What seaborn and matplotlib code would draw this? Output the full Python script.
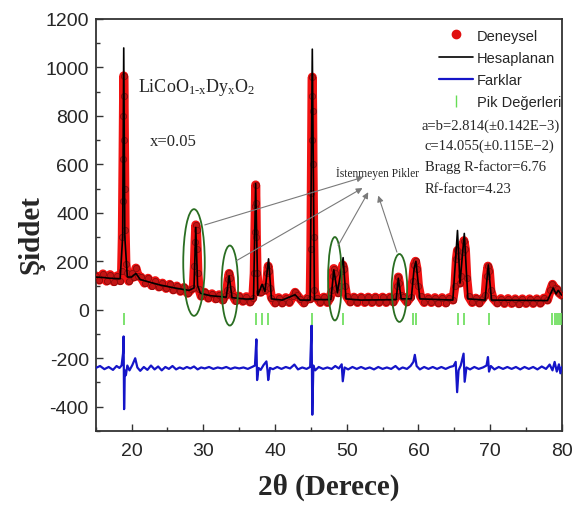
"""
Rietveld refinement plot for LiCoO(1-x)Dy(x)O2, x=0.05.
"""

import matplotlib
matplotlib.use('Agg')
import matplotlib.pyplot as plt
import seaborn as sns
import pandas as pd
from matplotlib.lines import Line2D
from matplotlib.patches import Ellipse

obs_x = [15.0, 15.5, 16.0, 16.5, 17.0, 17.5, 18.0, 18.4, 18.6, 18.7, 18.75, 18.8, 18.85, 18.9,
         18.95, 19.0, 19.05, 19.1, 19.2, 19.35, 19.6, 20.0, 20.3, 20.6, 20.9, 21.3, 21.8, 22.3,
         22.8, 23.3, 23.8, 24.3, 24.8, 25.3, 25.8, 26.3, 26.8, 27.3, 27.8, 28.3, 28.6, 28.75,
         28.85, 28.95, 29.05, 29.15, 29.25, 29.4, 29.7, 30.2, 30.7, 31.2, 31.7, 32.2, 32.7, 33.1,
         33.3, 33.45, 33.6, 33.75, 33.9, 34.1, 34.5, 35.0, 35.5, 36.0, 36.5, 36.9, 37.1, 37.2,
         37.25, 37.3, 37.35, 37.4, 37.5, 37.7, 38.0, 38.3, 38.55, 38.8, 38.95, 39.05, 39.15, 39.3,
         39.5, 40.0, 40.5, 41.0, 41.5, 42.0, 42.5, 42.8, 43.1, 43.5, 44.0, 44.5, 44.9, 45.0,
         45.05, 45.1, 45.15, 45.2, 45.25, 45.3, 45.4, 45.5, 45.8, 46.3, 46.8, 47.3, 47.7, 47.95,
         48.1, 48.2, 48.35, 48.5, 48.8, 49.1, 49.3, 49.45, 49.6, 49.75, 50.0, 50.5, 51.0, 51.5,
         52.0, 52.5, 53.0, 53.5, 54.0, 54.5, 55.0, 55.5, 56.0, 56.5, 56.9, 57.05, 57.2, 57.35,
         57.55, 57.9, 58.4, 58.9, 59.2, 59.4, 59.6, 59.8, 60.0, 60.3, 60.8, 61.3, 61.8, 62.3,
         62.8, 63.3, 63.8, 64.3, 64.8, 65.1, 65.3, 65.45, 65.6, 65.8, 65.95, 66.15, 66.35, 66.55,
         66.75, 67.0, 67.5, 68.0, 68.5, 69.0, 69.3, 69.5, 69.7, 69.9, 70.1, 70.4, 71.0, 71.5,
         72.0, 72.5, 73.0, 73.5, 74.0, 74.5, 75.0, 75.5, 76.0, 76.5, 77.0, 77.5, 78.0, 78.4,
         78.7, 79.0, 79.3, 79.6, 80.0]
obs_y = [140, 122, 148, 118, 145, 116, 140, 120, 160, 300, 450, 620, 800, 965,
         880, 700, 500, 330, 190, 150, 118, 150, 135, 172, 140, 135, 110, 130,
         100, 120, 94, 110, 88, 105, 82, 98, 76, 92, 68, 84, 90, 180,
         280, 350, 330, 250, 150, 85, 56, 72, 48, 66, 45, 62, 40, 60,
         80, 125, 150, 130, 85, 58, 38, 56, 35, 54, 32, 50, 150, 320,
         430, 515, 440, 300, 150, 75, 72, 95, 80, 100, 150, 180, 160, 90,
         50, 28, 50, 28, 50, 30, 55, 72, 60, 45, 28, 48, 45, 250,
         480, 700, 880, 960, 820, 600, 300, 80, 50, 30, 52, 30, 50, 80,
         140, 170, 150, 90, 70, 100, 160, 185, 170, 100, 55, 32, 52, 30,
         52, 30, 52, 30, 52, 30, 52, 30, 52, 32, 55, 100, 135, 110,
         60, 52, 32, 52, 120, 185, 200, 170, 100, 55, 30, 50, 30, 50,
         28, 50, 28, 50, 40, 100, 210, 245, 220, 110, 140, 240, 285, 250,
         130, 55, 30, 48, 28, 48, 60, 140, 180, 160, 80, 48, 28, 46,
         26, 46, 26, 45, 25, 45, 26, 45, 26, 45, 27, 48, 40, 80,
         105, 90, 85, 70, 60]

# calculated pattern
calc_x = [15.0, 16.0, 17.0, 18.4, 18.75, 18.9, 19.05, 19.4, 20.0, 20.6, 21.2, 22.0, 24.0, 26.0,
          28.0, 28.7, 28.95, 29.2, 29.6, 31.0, 33.2, 33.6, 34.0, 36.0, 37.0, 37.3, 37.6, 38.2,
          38.6, 39.1, 39.5, 41.0, 42.8, 43.5, 44.9, 45.2, 45.5, 47.8, 48.2, 48.7, 49.5, 49.9,
          52.0, 56.9, 57.2, 57.6, 59.0, 59.4, 59.65, 60.2, 64.8, 65.45, 65.8, 66.4, 66.9, 69.3,
          69.75, 70.2, 78.0, 78.8, 79.2, 79.5, 80.0]
calc_y = [135, 133, 130, 128, 300, 1080, 300, 135, 135, 150, 125, 118, 102, 90,
          80, 90, 340, 100, 68, 58, 52, 140, 50, 44, 45, 520, 60, 105,
          75, 210, 45, 40, 62, 40, 40, 1075, 42, 42, 165, 70, 215, 45,
          40, 42, 130, 45, 45, 170, 200, 45, 40, 327, 110, 315, 45, 40,
          185, 40, 38, 90, 65, 80, 60]

# difference curve (obs - calc, shifted)
diff_x = [15.0, 15.6, 16.2, 16.8, 17.4, 17.9, 18.3, 18.6, 18.8, 18.88, 18.95, 19.05, 19.2, 19.4,
          19.7, 20.1, 20.5, 20.8, 21.2, 21.7, 22.2, 22.7, 23.2, 23.7, 24.2, 24.7, 25.2, 25.7,
          26.2, 26.7, 27.2, 27.7, 28.2, 28.7, 29.2, 29.7, 30.2, 30.8, 31.4, 32.0, 32.6, 33.2,
          33.8, 34.4, 35.0, 35.6, 36.2, 36.8, 37.2, 37.4, 37.5, 37.7, 38.0, 38.4, 38.8, 38.95,
          39.05, 39.3, 39.7, 40.3, 40.9, 41.5, 42.1, 42.7, 43.2, 43.8, 44.4, 44.9, 45.1, 45.2,
          45.35, 45.6, 46.1, 46.7, 47.3, 47.9, 48.4, 48.9, 49.3, 49.45, 49.7, 50.2, 50.8, 51.4,
          52.0, 52.6, 53.2, 53.8, 54.4, 55.0, 55.6, 56.2, 56.8, 57.3, 57.8, 58.4, 58.9, 59.3,
          59.5, 59.75, 60.2, 60.8, 61.4, 62.0, 62.6, 63.2, 63.8, 64.4, 64.9, 65.2, 65.4, 65.6,
          65.9, 66.3, 66.45, 66.7, 67.2, 67.8, 68.4, 69.0, 69.5, 69.7, 69.85, 70.1, 70.6, 71.2,
          71.8, 72.4, 73.0, 73.6, 74.2, 74.8, 75.4, 76.0, 76.6, 77.2, 77.8, 78.3, 78.7, 79.0,
          79.3, 79.6, 79.8, 80.0]
diff_y = [-240, -232, -245, -236, -248, -232, -240, -230, -180, -110, -410, -250, -270, -230,
          -250, -228, -200, -238, -252, -236, -248, -230, -246, -234, -250, -236, -244, -232,
          -246, -238, -244, -236, -242, -234, -246, -238, -242, -236, -244, -238, -242, -236,
          -244, -238, -242, -238, -244, -236, -230, -122, -290, -240, -248, -228, -213, -250,
          -290, -240, -245, -236, -244, -236, -242, -226, -246, -238, -244, -236, -65, -433,
          -230, -250, -236, -244, -238, -244, -232, -242, -225, -295, -238, -246, -236, -244,
          -236, -244, -238, -246, -236, -244, -238, -244, -232, -246, -238, -244, -232, -215,
          -186, -232, -246, -236, -244, -236, -244, -236, -244, -236, -232, -215, -340, -250,
          -230, -181, -297, -238, -246, -236, -244, -238, -230, -195, -255, -232, -246, -236,
          -244, -236, -244, -236, -246, -236, -244, -236, -246, -234, -244, -226, -250, -215,
          -255, -225, -262, -236]

# Bragg reflection positions
bragg_x = [18.95, 37.4, 38.2, 39.0, 45.2, 49.45, 59.2, 59.65, 65.5, 66.4, 69.85,
           78.7, 79.0, 79.3, 79.6, 79.9]
bragg_y = [-40] * len(bragg_x)

# unwanted peaks: ellipse (center x, center y, width, height) and arrow tails/heads
unwanted = [(28.7, 195, 3.0, 440), (33.7, 100, 2.3, 330), (48.35, 128, 1.9, 344), (57.35, 90, 2.15, 280)]
arrow_tails = [(30.2, 350), (34.65, 203), (48.8, 265), (57.0, 238)]
arrow_heads = [(52.3, 547), (52.2, 502), (53.0, 485), (54.4, 471)]

refine_lines = ['a=b=2.814(\u00b10.142E\u22123)', 'c=14.055(\u00b10.115E\u22122)',
                'Bragg R-factor=6.76', 'Rf-factor=4.23']

sns.set_style('ticks')
plt.rcParams['font.family'] = ['Liberation Sans', 'DejaVu Sans']
plt.rcParams['axes.unicode_minus'] = False
plt.rcParams['mathtext.fontset'] = 'custom'
plt.rcParams['mathtext.rm'] = 'Liberation Serif'
plt.rcParams['mathtext.it'] = 'Liberation Serif:italic'

SERIF = ['Liberation Serif', 'DejaVu Serif']
RED = '#f01212'
DOT = '#c41414'
GREEN_TICK = '#66dd55'
ELL = '#2a6e22'

fig = plt.figure(figsize=(5.84, 5.10), dpi=100)
ax = fig.add_axes([0.164, 0.153, 0.798, 0.808])

obs = pd.DataFrame({'x': obs_x, 'y': obs_y})
calc = pd.DataFrame({'x': calc_x, 'y': calc_y})
diff = pd.DataFrame({'x': diff_x, 'y': diff_y})

sns.lineplot(data=obs, x='x', y='y', ax=ax, color=RED, lw=6.5, estimator=None, sort=False,
             solid_joinstyle='round', solid_capstyle='round', zorder=2)
sns.scatterplot(data=obs, x='x', y='y', ax=ax, color=DOT, s=20, edgecolor='#8a0c0c',
                linewidth=0.6, zorder=3)
sns.lineplot(data=calc, x='x', y='y', ax=ax, color='black', lw=1.2, estimator=None,
             sort=False, zorder=4)
sns.lineplot(data=diff, x='x', y='y', ax=ax, color='#1515c8', lw=1.6, estimator=None,
             sort=False, zorder=4)
ax.plot(bragg_x, bragg_y, linestyle='', marker='|', markersize=9, mew=1.2,
        color=GREEN_TICK, zorder=4)

for cx, cy, w, h in unwanted:
    ax.add_patch(Ellipse((cx, cy), w, h, fill=False, edgecolor=ELL, lw=1.3, zorder=5))
for (tx, ty), (hx, hy) in zip(arrow_tails, arrow_heads):
    ax.annotate('', xy=(hx, hy), xytext=(tx, ty),
                arrowprops=dict(arrowstyle='-|>', color='#7a7a7a', lw=0.8,
                                mutation_scale=9, shrinkA=0, shrinkB=0), zorder=5)
ax.text(48.45, 568, '\u0130stenmeyen Pikler', family=SERIF, fontsize=8.3,
        ha='left', va='center')

ax.text(20.9, 920, 'LiCoO$_{\\mathrm{1\u2010x}}$Dy$_{\\mathrm{x}}$O$_{\\mathrm{2}}$',
        family=SERIF, fontsize=13, ha='left', va='center')
ax.text(22.6, 697, 'x=0.05', family=SERIF, fontsize=12, ha='left', va='center')

text_pos = [(60.45, 760), (60.9, 677), (60.9, 591), (60.9, 499)]
for (tx, ty), line in zip(text_pos, refine_lines):
    ax.text(tx, ty, line, family=SERIF, fontsize=10.5, ha='left', va='center')

handles = [
    Line2D([], [], linestyle='', marker='o', markersize=6, color='#e01010', mec='#e01010'),
    Line2D([], [], color='black', lw=1.2),
    Line2D([], [], color='#1515c8', lw=1.6),
    Line2D([], [], linestyle='', marker='|', markersize=9, mew=1, color=GREEN_TICK),
]
labels = ['Deneysel', 'Hesaplanan', 'Farklar', 'Pik De\u011ferleri']
ax.legend(handles, labels, loc='upper left', bbox_to_anchor=(0.752, 0.942),
          bbox_transform=fig.transFigure, frameon=False, fontsize=10.5,
          handlelength=2.3, handletextpad=0.3, labelspacing=0.56, borderpad=0,
          borderaxespad=0)

ax.set_xlim(15, 80)
ax.set_ylim(-500, 1200)
ax.set_xticks(range(20, 81, 10))
ax.set_xticks(range(15, 81, 5), minor=True)
ax.set_yticks(range(-400, 1201, 200))
ax.set_yticks(range(-500, 1201, 100), minor=True)
ax.tick_params(which='both', direction='in', top=False, right=False, color='#333333',
               width=1.0)
ax.tick_params(which='major', length=5, labelsize=14)
ax.tick_params(axis='x', which='major', pad=8)
ax.tick_params(axis='y', which='major', pad=5)
ax.tick_params(which='minor', length=3)
for sp in ax.spines.values():
    sp.set_visible(True)
    sp.set_color('#333333')
    sp.set_linewidth(1.3)

ax.set_xlabel('2\u03b8 (Derece)', family=SERIF, fontsize=21, fontweight='bold')
ax.xaxis.set_label_coords(0.5, -0.135)
ax.xaxis.label.set_verticalalignment('center')
ax.set_ylabel('\u015eiddet', family=SERIF, fontsize=21, fontweight='bold')
ax.yaxis.set_label_coords(-0.139, 0.478)
ax.yaxis.label.set_verticalalignment('center')

fig.savefig('out.png', dpi=100)
